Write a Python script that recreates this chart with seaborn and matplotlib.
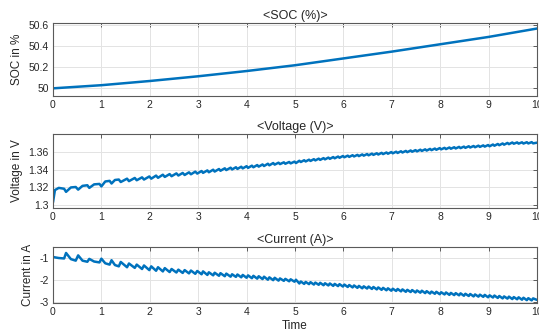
import matplotlib
matplotlib.use("Agg")
import matplotlib.pyplot as plt
import seaborn as sns
import pandas as pd

# ---------------- data ----------------
soc_time = [0, 1, 2, 3, 4, 5, 6, 7, 8, 9, 10]
soc_values = [50.00, 50.03, 50.07, 50.115, 50.165, 50.22, 50.285, 50.35, 50.42, 50.49, 50.57]

sig_time = [
    0.00, 0.04, 0.12,
    0.23, 0.27, 0.37, 0.47, 0.52, 0.61, 0.71, 0.75, 0.85, 0.96, 1.00,
    1.08, 1.17, 1.21, 1.28, 1.36, 1.40, 1.53, 1.57, 1.69, 1.73, 1.84, 1.88,
    1.99, 2.03, 2.13, 2.17, 2.27, 2.31, 2.41, 2.45, 2.55, 2.59,
    2.68, 2.72, 2.81, 2.85, 2.94, 2.98, 3.07, 3.10, 3.19, 3.22,
    3.31, 3.34, 3.43, 3.46, 3.55, 3.58, 3.67, 3.70, 3.78, 3.81,
    3.89, 3.92, 4.00, 4.03, 4.11, 4.14, 4.22, 4.25, 4.33, 4.36,
    4.44, 4.47, 4.55, 4.58, 4.66, 4.69, 4.77, 4.80, 4.88, 4.91,
    4.99, 5.02, 5.09, 5.12, 5.19, 5.22, 5.29, 5.32, 5.39, 5.42,
    5.49, 5.52, 5.59, 5.62, 5.69, 5.72, 5.79, 5.82, 5.89, 5.92,
    5.99, 6.02, 6.09, 6.12, 6.19, 6.22, 6.29, 6.32, 6.39, 6.42,
    6.49, 6.52, 6.59, 6.62, 6.69, 6.72, 6.79, 6.82, 6.89, 6.92,
    6.99, 7.02, 7.09, 7.12, 7.19, 7.22, 7.29, 7.32, 7.39, 7.42,
    7.49, 7.52, 7.59, 7.62, 7.69, 7.72, 7.79, 7.82, 7.89, 7.92,
    7.99, 8.02, 8.09, 8.12, 8.19, 8.22, 8.29, 8.32, 8.39, 8.42,
    8.49, 8.52, 8.59, 8.62, 8.69, 8.72, 8.79, 8.82, 8.89, 8.92,
    8.99, 9.02, 9.09, 9.12, 9.19, 9.22, 9.29, 9.32, 9.39, 9.42,
    9.49, 9.52, 9.59, 9.62, 9.69, 9.72, 9.79, 9.82, 9.89, 9.92,
    10.00,
]

voltage = [
    1.3030, 1.3170, 1.3195,
    1.3185, 1.3150, 1.3200, 1.3205, 1.3175, 1.3218, 1.3225, 1.3195, 1.3235, 1.3240, 1.3212,
    1.3268, 1.3275, 1.3245, 1.3285, 1.3290, 1.3262, 1.3300, 1.3272, 1.3308, 1.3282, 1.3315, 1.3290,
    1.3325, 1.3300, 1.3335, 1.3310, 1.3345, 1.3320, 1.3352, 1.3328, 1.3360, 1.3336,
    1.3365, 1.3342, 1.3372, 1.3350, 1.3380, 1.3358, 1.3387, 1.3366, 1.3394, 1.3373,
    1.3402, 1.3381, 1.3410, 1.3390, 1.3418, 1.3398, 1.3425, 1.3405, 1.3430, 1.3411,
    1.3436, 1.3417, 1.3442, 1.3423, 1.3448, 1.3430, 1.3455, 1.3437, 1.3462, 1.3444,
    1.3470, 1.3452, 1.3478, 1.3460, 1.3482, 1.3466, 1.3486, 1.3470, 1.3490, 1.3474,
    1.3494, 1.3478, 1.3504, 1.3490, 1.3510, 1.3496, 1.3516, 1.3502, 1.3522, 1.3508,
    1.3528, 1.3514, 1.3534, 1.3520, 1.3540, 1.3526, 1.3546, 1.3532, 1.3552, 1.3538,
    1.3558, 1.3544, 1.3562, 1.3548, 1.3567, 1.3553, 1.3571, 1.3557, 1.3576, 1.3562,
    1.3580, 1.3566, 1.3585, 1.3571, 1.3589, 1.3575, 1.3594, 1.3580, 1.3598, 1.3584,
    1.3603, 1.3589, 1.3607, 1.3593, 1.3612, 1.3598, 1.3616, 1.3602, 1.3621, 1.3607,
    1.3625, 1.3611, 1.3630, 1.3616, 1.3634, 1.3620, 1.3639, 1.3625, 1.3643, 1.3629,
    1.3648, 1.3634, 1.3651, 1.3637, 1.3655, 1.3641, 1.3658, 1.3644, 1.3662, 1.3648,
    1.3665, 1.3651, 1.3669, 1.3655, 1.3672, 1.3658, 1.3676, 1.3662, 1.3679, 1.3665,
    1.3683, 1.3669, 1.3689, 1.3675, 1.3695, 1.3681, 1.3701, 1.3687, 1.3707, 1.3693,
    1.3712, 1.3698, 1.3713, 1.3699, 1.3714, 1.3700, 1.3715, 1.3701, 1.3716, 1.3702,
    1.3710,
]

current = [
    -0.95, -0.97, -1.00,
    -1.02, -0.77, -1.05, -1.12, -0.88, -1.12, -1.17, -1.04, -1.16, -1.20, -1.03,
    -1.24, -1.30, -1.10, -1.32, -1.38, -1.18, -1.42, -1.25, -1.45, -1.30, -1.50, -1.34,
    -1.55, -1.38, -1.58, -1.42, -1.61, -1.46, -1.64, -1.50, -1.66, -1.53,
    -1.68, -1.55, -1.70, -1.57, -1.72, -1.59, -1.74, -1.61, -1.77, -1.65,
    -1.79, -1.67, -1.81, -1.69, -1.83, -1.71, -1.85, -1.74, -1.86, -1.75,
    -1.88, -1.77, -1.90, -1.79, -1.92, -1.81, -1.94, -1.83, -1.96, -1.85,
    -1.99, -1.88, -2.01, -1.90, -2.03, -1.93, -2.04, -1.95, -2.06, -1.97,
    -2.08, -1.99, -2.16, -2.07, -2.18, -2.09, -2.19, -2.10, -2.21, -2.12,
    -2.22, -2.13, -2.24, -2.15, -2.25, -2.16, -2.27, -2.18, -2.28, -2.19,
    -2.30, -2.21, -2.32, -2.23, -2.34, -2.25, -2.36, -2.27, -2.38, -2.29,
    -2.39, -2.30, -2.41, -2.32, -2.43, -2.34, -2.45, -2.36, -2.47, -2.38,
    -2.49, -2.40, -2.50, -2.41, -2.52, -2.43, -2.54, -2.45, -2.55, -2.46,
    -2.57, -2.48, -2.58, -2.49, -2.60, -2.51, -2.62, -2.53, -2.63, -2.54,
    -2.65, -2.56, -2.66, -2.57, -2.68, -2.59, -2.69, -2.60, -2.70, -2.61,
    -2.72, -2.63, -2.73, -2.64, -2.75, -2.66, -2.76, -2.67, -2.77, -2.68,
    -2.79, -2.70, -2.80, -2.71, -2.82, -2.73, -2.84, -2.75, -2.85, -2.76,
    -2.87, -2.78, -2.88, -2.79, -2.90, -2.81, -2.92, -2.83, -2.93, -2.84,
    -2.91,
]

x_ticks = [0, 1, 2, 3, 4, 5, 6, 7, 8, 9, 10]
soc_ticks = [50, 50.2, 50.4, 50.6]
soc_ticklabels = ["50", "50.2", "50.4", "50.6"]
volt_ticks = [1.30, 1.32, 1.34, 1.36]
volt_ticklabels = ["1.3", "1.32", "1.34", "1.36"]
curr_ticks = [-3, -2, -1]
curr_ticklabels = ["-3", "-2", "-1"]

titles = ["<SOC (%)>", "<Voltage (V)>", "<Current (A)>"]
ylabels = ["SOC in %", "Voltage in V", "Current in A"]

# ---------------- style ----------------
sns.set_theme(style="white")
plt.rcParams["font.family"] = ["Liberation Sans", "DejaVu Sans"]

LINE = "#0072BD"
FRAME = "#5a5a5a"

fig = plt.figure(figsize=(5.39, 3.33), dpi=100)
ax1 = fig.add_axes([0.0983, 0.7117, 0.898, 0.219])
ax2 = fig.add_axes([0.0983, 0.3754, 0.898, 0.222])
ax3 = fig.add_axes([0.0983, 0.0901, 0.898, 0.168])

df_soc = pd.DataFrame({"t": soc_time, "v": soc_values})
df_sig = pd.DataFrame({"t": sig_time, "v": voltage, "i": current})

sns.lineplot(data=df_soc, x="t", y="v", ax=ax1, color=LINE, lw=1.8)
sns.lineplot(data=df_sig, x="t", y="v", ax=ax2, color=LINE, lw=1.8)
sns.lineplot(data=df_sig, x="t", y="i", ax=ax3, color=LINE, lw=1.8)

ylims = [(49.927, 50.622), (1.2966, 1.3808), (-3.05, -0.50)]
yt = [soc_ticks, volt_ticks, curr_ticks]
ytl = [soc_ticklabels, volt_ticklabels, curr_ticklabels]

for ax, title, yl, lim, t, tl in zip([ax1, ax2, ax3], titles, ylabels, ylims, yt, ytl):
    ax.set_xlim(0, 10)
    ax.set_ylim(*lim)
    ax.set_xticks(x_ticks)
    ax.set_xticklabels([str(v) for v in x_ticks])
    ax.set_yticks(t)
    ax.set_yticklabels(tl)
    ax.grid(True, color="#e3e3e3", lw=0.7)
    ax.set_axisbelow(True)
    for s in ax.spines.values():
        s.set_color(FRAME)
        s.set_linewidth(0.8)
    ax.tick_params(direction="in", length=3, width=0.7, color=FRAME,
                   top=True, right=True, labelsize=7.5, labelcolor="#262626", pad=3)
    ax.set_title(title, fontsize=9, color="#262626", pad=3)
    ax.set_ylabel(yl, fontsize=8.5, color="#262626", labelpad=4)
    ax.set_xlabel("")

ax3.set_xlabel("Time", fontsize=8.5, color="#262626", labelpad=2)

fig.savefig("out.png", dpi=100)
